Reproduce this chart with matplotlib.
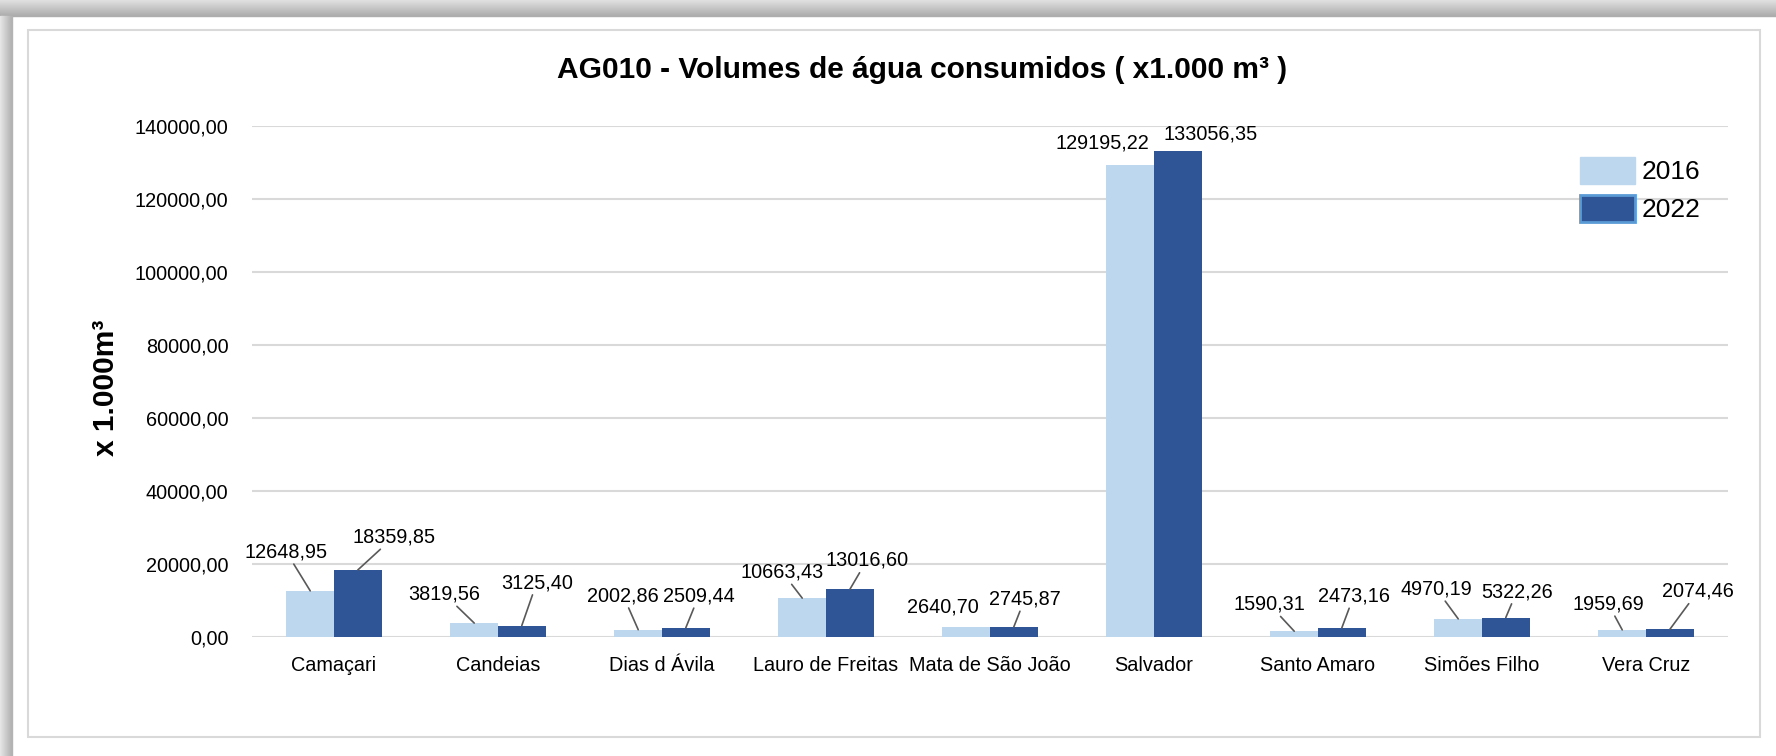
import numpy as np
import matplotlib.pyplot as plt
from matplotlib.patches import Patch, Rectangle

W, H, DPI = 1776, 756, 100

municipios = ['Camaçari', 'Candeias', 'Dias d Ávila', 'Lauro de Freitas',
              'Mata de São João', 'Salvador', 'Santo Amaro', 'Simões Filho',
              'Vera Cruz']
vol_2016 = [12648.95, 3819.56, 2002.86, 10663.43, 2640.70, 129195.22,
            1590.31, 4970.19, 1959.69]
vol_2022 = [18359.85, 3125.40, 2509.44, 13016.60, 2745.87, 133056.35,
            2473.16, 5322.26, 2074.46]
y_ticks = [0, 20000, 40000, 60000, 80000, 100000, 120000, 140000]

# label placement (pixel offsets from bar top, screen y down) and leader flags
off_2016 = [(-24, -39), (-30, -29), (-15, -34), (-20, -26), (-23, -20),
            (-28, -22), (-25, -27), (-22, -30), (-14, -26)]
off_2022 = [(36, -33), (15, -43), (13, -32), (17, -29), (11, -28),
            (33, -17), (12, -32), (11, -26), (28, -38)]
lead_2016 = [True, True, True, True, False, False, True, True, True]
lead_2022 = [True, True, True, True, True, False, True, True, True]

C16 = '#bdd7ee'
C22 = '#2f5597'
FONT = ['Liberation Sans', 'DejaVu Sans']
FS = 14.3


def fmt(v):
    return f"{v:.2f}".replace('.', ',')


fig = plt.figure(figsize=(W / DPI, H / DPI), dpi=DPI)
fig.patch.set_facecolor('white')

# window shadow on top and left, then the chart border
grad = np.linspace(0.88, 0.68, 16)
for i, g in enumerate(grad):
    fig.patches.append(Rectangle((0, 1 - (i + 1) / H), 1, 1 / H,
                                 transform=fig.transFigure,
                                 color=str(g), zorder=0))
grad_l = np.linspace(0.90, 0.70, 12)
for i, g in enumerate(grad_l):
    fig.patches.append(Rectangle((i / W, 0), 1 / W, 1 - 16 / H,
                                 transform=fig.transFigure,
                                 color=str(g), zorder=0))
fig.patches.append(Rectangle((28 / W, 1 - 737 / H), (1760 - 28) / W,
                             (737 - 30) / H, transform=fig.transFigure,
                             fill=False, edgecolor='#d9d9d9', lw=1.5))

ax = fig.add_axes([252 / W, 1 - 637 / H, (1728 - 252) / W, (637 - 126) / H])
x = np.arange(len(municipios))
bw = 0.29
b16 = ax.bar(x - bw / 2, vol_2016, bw, color=C16, zorder=3)
b22 = ax.bar(x + bw / 2, vol_2022, bw, color=C22, zorder=3)

ax.set_xlim(-0.5, len(municipios) - 0.5)
ax.set_ylim(0, 140000)
ax.set_yticks(y_ticks)
ax.set_yticklabels([fmt(v) for v in y_ticks], family=FONT, fontsize=FS)
ax.set_xticks(x)
ax.set_xticklabels(municipios, family=FONT, fontsize=FS)
ax.tick_params(axis='both', length=0)
ax.tick_params(axis='y', pad=17)
ax.tick_params(axis='x', pad=14)
ax.grid(axis='y', color='#d9d9d9', lw=1.5, zorder=0)
for s in ax.spines.values():
    s.set_visible(False)

for bars, vals, offs, leads in [(b16, vol_2016, off_2016, lead_2016),
                                (b22, vol_2022, off_2022, lead_2022)]:
    for rect, v, (dx, dy), lead in zip(bars, vals, offs, leads):
        xc = rect.get_x() + rect.get_width() / 2
        arrow = dict(arrowstyle='-', color='#595959', lw=1.2,
                     shrinkA=0, shrinkB=0) if lead else None
        ax.annotate(fmt(v), xy=(xc, v), xytext=(dx, -dy),
                    textcoords='offset pixels', ha='center', va='center',
                    family=FONT, fontsize=FS, arrowprops=arrow, zorder=5)

fig.text(922 / W, 1 - 70 / H,
         'AG010 - Volumes de água consumidos ( x1.000 m³ )',
         ha='center', va='center', fontsize=21.5, fontweight='bold',
         family=FONT)
fig.text(106 / W, 1 - 388 / H, 'x 1.000m³', rotation=90,
         ha='center', va='center', fontsize=21.5, fontweight='bold',
         family=FONT)

handles = [Patch(facecolor=C16, edgecolor=C16, label='2016'),
           Patch(facecolor=C22, edgecolor='#5b9bd5', lw=2, label='2022')]
fig.legend(handles=handles, loc='upper left',
           bbox_to_anchor=(1580 / W, 1 - 157 / H), frameon=False,
           borderpad=0, borderaxespad=0, handlelength=2.1,
           handleheight=1.2, labelspacing=0.4, handletextpad=0.25,
           prop=dict(family=FONT, size=19))

fig.savefig('out.png', dpi=DPI)
